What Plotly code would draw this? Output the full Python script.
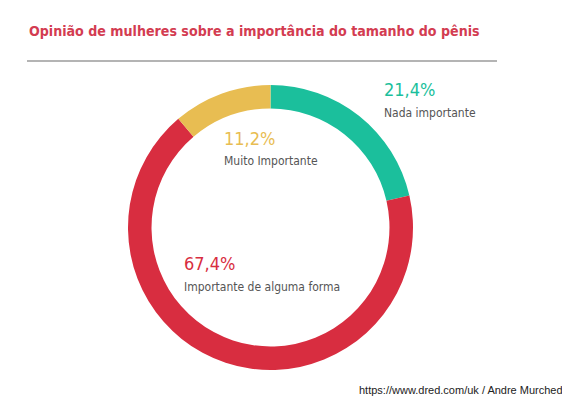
import plotly.graph_objects as go

# page offset caused by the default body margin of the html page
OFF = 8
W, H = 570 - OFF, 398 - OFF

categories = ["Nada importante", "Importante de alguma forma", "Muito Importante"]
values = [21.4, 67.4, 11.2]
value_labels = ["21,4%", "67,4%", "11,2%"]
colors = ["#1bbf9c", "#d82d40", "#e8bd52"]

title_text = "Opinião de mulheres sobre a importância do tamanho do pênis"
source_text = "https://www.dred.com/uk / Andre Murched"

NARROW = "DejaVu Sans Condensed, Roboto, Arial, sans-serif"


def px(x):
    return (x - OFF) / W


def py(y):
    return 1 - (y - OFF) / H


fig = go.Figure()
fig.add_trace(go.Pie(
    labels=categories,
    values=values,
    hole=0.835,
    sort=False,
    direction="clockwise",
    rotation=0,
    marker=dict(colors=colors, line=dict(width=0)),
    textinfo="none",
    hoverinfo="label+percent",
    showlegend=False,
    domain=dict(x=[px(128), px(413)], y=[py(370), py(85)]),
))

# label positions (page pixels): (x, y of percentage, y of name)
label_pos = {
    "Nada importante": (382, 89, 113),
    "Muito Importante": (222, 139, 161),
    "Importante de alguma forma": (182, 263, 287),
}

annotations = []
for cat, vl, col in zip(categories, value_labels, colors):
    x, yv, yn = label_pos[cat]
    annotations.append(dict(
        x=px(x), y=py(yv), xref="paper", yref="paper",
        xanchor="left", yanchor="middle", showarrow=False,
        text=vl, font=dict(family=NARROW, size=18, color=col),
    ))
    annotations.append(dict(
        x=px(x), y=py(yn), xref="paper", yref="paper",
        xanchor="left", yanchor="middle", showarrow=False,
        text=cat, font=dict(family=NARROW, size=12, color="#555555"),
    ))

annotations.append(dict(
    x=px(27), y=py(31), xref="paper", yref="paper",
    xanchor="left", yanchor="middle", showarrow=False,
    text="<b>" + title_text + "</b>",
    font=dict(family=NARROW, size=14.1, color="#d33c51"),
))
annotations.append(dict(
    x=px(565), y=py(390), xref="paper", yref="paper",
    xanchor="right", yanchor="middle", showarrow=False,
    text=source_text,
    font=dict(family="Liberation Sans, Arial, sans-serif", size=11, color="#222222"),
))

fig.update_layout(
    width=W, height=H,
    margin=dict(l=0, r=0, t=0, b=0),
    paper_bgcolor="white",
    plot_bgcolor="white",
    annotations=annotations,
    shapes=[dict(
        type="line", xref="paper", yref="paper",
        x0=px(27), x1=px(497), y0=py(61), y1=py(61),
        line=dict(color="#b4b4b4", width=2),
    )],
)

fig.write_html("out.html")
